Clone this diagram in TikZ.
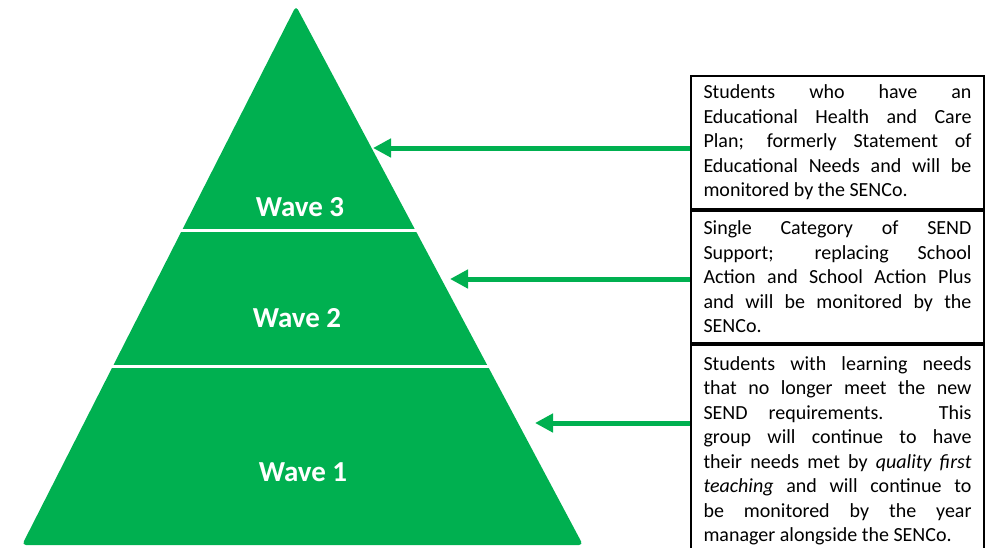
\documentclass[tikz,border=0pt]{standalone}
\usepackage{fontspec}
\setmainfont{Carlito}
\usetikzlibrary{arrows.meta,calc}
\definecolor{wavegreen}{RGB}{0,176,80}

\tikzset{
	infobox/.style={draw=black, line width=2pt, anchor=north west, text width=268pt, inner xsep=12.5pt, inner ysep=0pt, align=justify, font=\fontsize{20}{24.5}\selectfont},
	wavelabel/.style={text=white, font=\fontsize{29}{33}\selectfont\bfseries},
	pointer/.style={wavegreen, line width=5pt, -{Triangle[length=18pt,width=18pt]}}
}

\begin{document}
\begin{tikzpicture}[x=1pt, y=-1pt]
			%%%%% START %%%%%
			\useasboundingbox (0, 0) rectangle (994, 547);
			
			\fill[wavegreen, rounded corners=4pt] (296, 6) -- (583, 545) -- (22, 545) -- cycle;
			\draw[white, line width=3pt] (100, 230) -- (500, 230);
			\draw[white, line width=3pt] (60, 366) -- (560, 366);
			
			\node[wavelabel] (wave3) at (300, 207) {Wave 3};
			\node[wavelabel] (wave2) at (297, 318) {Wave 2};
			\node[wavelabel] (wave1) at (303, 472) {Wave 1};
			
			\node[infobox, minimum height=133pt] (ehcpbox) at (690, 75) {Students who have an\linebreak Educational Health and Care\linebreak Plan; formerly Statement of\linebreak Educational Needs and will be\linebreak monitored by the SENCo.};
			\node[infobox, minimum height=132pt] (sendbox) at (ehcpbox.south west) {Single Category of SEND\linebreak Support; replacing School\linebreak Action and School Action Plus\linebreak and will be monitored by the\linebreak SENCo.};
			\node[infobox, minimum height=212pt] (qftbox) at (sendbox.south west) {Students with learning needs\linebreak that no longer meet the new\linebreak SEND requirements. This\linebreak group will continue to have\linebreak their needs met by \textit{quality first}\linebreak \textit{teaching} and will continue to\linebreak be monitored by the year\linebreak manager alongside the SENCo.};
			
			\coordinate (tip3) at (373, 148);
			\coordinate (tip2) at (450, 279);
			\coordinate (tip1) at (535, 423);
			\draw[pointer] (ehcpbox.west |- tip3) -- (tip3);
			\draw[pointer] (sendbox.west |- tip2) -- (tip2);
			\draw[pointer] (qftbox.west |- tip1) -- (tip1);
			
			%%%%% END %%%%%
\end{tikzpicture}
\end{document}
